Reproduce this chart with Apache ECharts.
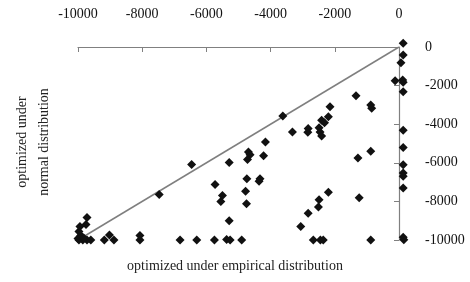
<!DOCTYPE html>
<html>
<head>
<meta charset="utf-8">
<script src="https://cdn.jsdelivr.net/npm/echarts@6/dist/echarts.min.js"></script>
<style>
  html, body { margin: 0; padding: 0; background: #fff; }
  #chart { width: 470px; height: 282px; }
</style>
</head>
<body>
<div id="chart"></div>
<script>
// optimized under empirical distribution (x) vs normal distribution (y)
const empirical = [
  130, 130, 60, -120, 115, 130, 130, 130, 130, 130, 130, 130, 130, 130, 150,
  -880, -850, -1340, -880, -1280, -1240, -880,
  -2150, -2200, -2410, -2320, -2490, -2460, -2410, -2830, -2840, -3320, -3620,
  -4160, -4220, -4690, -4640, -4720, -5290, -6460, -5730, -5500, -5550,
  -4740, -4330, -4360, -4780, -4750, -5290, -7470,
  -2200, -2490, -2510, -2830, -3060,
  -2670, -2450, -2360, -4900, -5370, -5260, -5750, -6300, -6820,
  -8070, -8070, -8880, -9020, -9180,
  -9600, -9720, -9850, -9970, -10000, -9910, -9970, -9940, -9750, -9720, -9820
]
const normal = [
  190, -420, -820, -1750, -1710, -1820, -2320, -4310, -5210, -6100, -6530, -6700, -7300, -9860, -9990,
  -3010, -3180, -2530, -5400, -5750, -7810, -10000,
  -3100, -3610, -3790, -3920, -4190, -4400, -4610, -4220, -4420, -4400, -3570,
  -4920, -5640, -5440, -5580, -5830, -5990, -6090, -7130, -7690, -8000,
  -6820, -6820, -6950, -7470, -8120, -9000, -7640,
  -7530, -7910, -8290, -8610, -9300,
  -10000, -10000, -10000, -10000, -9970, -10000, -10000, -10000, -10000,
  -10000, -9770, -10000, -9740, -10000,
  -10000, -10000, -10000, -10000, -9920, -9770, -9560, -9300, -9200, -8830, -9900
]
const diagonal = [[-10000, -10000], [0, 0]]
const tickStep = 2000

const points = empirical.map((x, i) => [x, normal[i]])
const serif = 'Liberation Serif'

const chart = echarts.init(document.getElementById('chart'))
chart.setOption({
  animation: false,
  grid: { left: 78, right: 71, top: 47, bottom: 42 },
  xAxis: {
    type: 'value',
    position: 'top',
    min: -10000,
    max: 0,
    interval: tickStep,
    splitLine: { show: false },
    axisLine: { lineStyle: { color: '#808080', width: 1.2 } },
    axisTick: { inside: true, length: 5, lineStyle: { color: '#808080' } },
    axisLabel: { margin: 26, color: '#111', fontFamily: serif, fontSize: 14, formatter: v => String(v) },
  },
  yAxis: {
    type: 'value',
    position: 'right',
    min: -10000,
    max: 0,
    interval: tickStep,
    splitLine: { show: false },
    axisLine: { lineStyle: { color: '#808080', width: 1.2 } },
    axisTick: { inside: true, length: 5, lineStyle: { color: '#808080' } },
    axisLabel: { margin: 26, color: '#111', fontFamily: serif, fontSize: 14, formatter: v => String(v) },
  },
  graphic: [
    {
      type: 'text',
      left: 'center',
      top: 259,
      style: {
        text: 'optimized under empirical distribution',
        fill: '#222',
        font: `14px "${serif}"`,
      },
    },
    {
      type: 'text',
      x: 33,
      y: 142,
      rotation: Math.PI / 2,
      style: {
        text: 'optimized under\nnormal distribution',
        fill: '#222',
        font: `14px "${serif}"`,
        lineHeight: 22,
        align: 'center',
        verticalAlign: 'middle',
      },
    },
  ],
  series: [
    {
      type: 'line',
      data: diagonal,
      symbol: 'none',
      lineStyle: { color: '#7f7f7f', width: 1.5 },
      z: 1,
    },
    {
      type: 'scatter',
      data: points,
      symbol: 'diamond',
      symbolSize: 9,
      clip: false,
      itemStyle: { color: '#111', opacity: 1 },
      z: 2,
    },
  ],
})
window.addEventListener('resize', () => {
  chart.resize()
})
</script>
</body>
</html>
